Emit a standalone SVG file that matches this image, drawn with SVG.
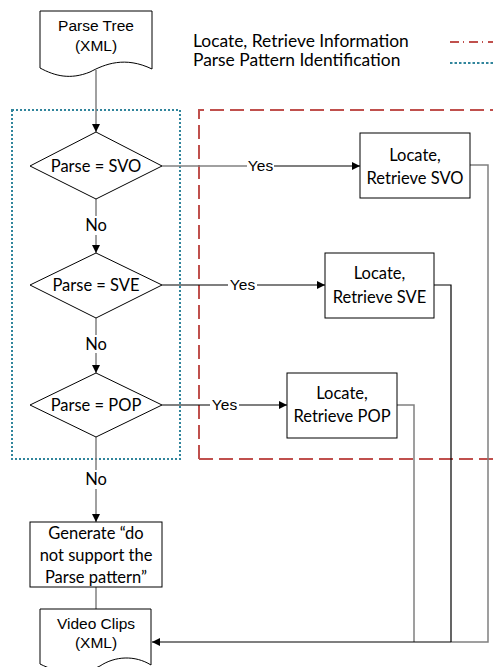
<svg xmlns="http://www.w3.org/2000/svg" width="493" height="667" viewBox="0 0 493 667">
<defs>
<marker id="arr" viewBox="0 0 10 10" refX="10" refY="5" markerWidth="8" markerHeight="8" markerUnits="userSpaceOnUse" orient="auto">
<path d="M0,0 L10,5 L0,10 z" fill="#000"/>
</marker>
<style>
.shape{fill:#fff;stroke:#000;stroke-width:1}
.ar{font-family:"Liberation Sans",Arial,sans-serif;font-size:15.5px;fill:#000;text-anchor:middle}
.ca{font-family:Lato,"Open Sans",sans-serif;font-size:16.5px;fill:#000;text-anchor:middle}
.lg{font-family:Lato,"Open Sans",sans-serif;font-size:17.4px;fill:#000}
.g{fill:none;stroke:#808080;stroke-width:1.5}
.k{fill:none;stroke:#000;stroke-width:1.2}
</style>
</defs>
<rect width="493" height="667" fill="#fff"/>
<g id="legend">
<text class="lg" x="193" y="47">Locate, Retrieve Information</text>
<text class="lg" x="193" y="66">Parse Pattern Identification</text>
<line x1="450" y1="42" x2="493" y2="42" stroke="#C0504D" stroke-width="2" stroke-dasharray="9 4 1 5"/>
<line x1="450" y1="63" x2="493" y2="63" stroke="#31859C" stroke-width="2" stroke-dasharray="2.5 2"/>
</g>
<g id="group-parse">
<rect x="12" y="110" width="168" height="349" fill="none" stroke="#31859C" stroke-width="2" stroke-dasharray="2 2"/>
</g>
<g id="group-locate">
<path d="M199,459 L199,110 L500,110 M199,459 L500,459" fill="none" stroke="#C0504D" stroke-width="2" stroke-dasharray="14 6"/>
</g>
<g id="connectors">
<line class="g" x1="96" y1="70" x2="96" y2="132" marker-end="url(#arr)"/>
<line class="g" x1="96" y1="199" x2="96" y2="216"/>
<line class="g" x1="96" y1="235" x2="96" y2="253" marker-end="url(#arr)"/>
<line class="g" x1="96" y1="318" x2="96" y2="335"/>
<line class="g" x1="96" y1="353" x2="96" y2="373" marker-end="url(#arr)"/>
<line class="g" x1="96" y1="437" x2="96" y2="470"/>
<line class="g" x1="96" y1="489" x2="96" y2="522" marker-end="url(#arr)"/>
<line class="g" x1="96" y1="587" x2="96" y2="609"/>
<line class="g" x1="162" y1="166" x2="247" y2="166"/>
<line class="k" x1="274" y1="166" x2="360" y2="166" marker-end="url(#arr)"/>
<line class="k" x1="162" y1="285" x2="228" y2="285"/>
<line class="k" x1="257" y1="285" x2="325" y2="285" marker-end="url(#arr)"/>
<line class="k" x1="162" y1="405" x2="210" y2="405"/>
<line class="k" x1="239" y1="405" x2="287" y2="405" marker-end="url(#arr)"/>
<polyline class="g" points="470,165 488,165 488,642 451,642"/>
<polyline class="k" points="434,285 451,285 451,642"/>
<polyline class="g" points="397,405 414,405 414,642"/>
<line class="k" x1="451" y1="642" x2="152" y2="642" stroke-width="1.5" marker-end="url(#arr)"/>
<text class="ar" x="260.5" y="171">Yes</text>
<text class="ar" x="242.5" y="290">Yes</text>
<text class="ar" x="224.5" y="410">Yes</text>
<text class="ca" x="96" y="231">No</text>
<text class="ca" x="96" y="350">No</text>
<text class="ca" x="96" y="485">No</text>
</g>
<g id="parse-tree">
<path class="shape" d="M40,11 L152,11 L152,69 C125,56 105,64 90,72 C70,80 55,76 40,68 Z"/>
<text class="ar" x="96" y="31">Parse Tree</text>
<text class="ar" x="96" y="51">(XML)</text>
</g>
<g id="d-svo">
<polygon class="shape" points="96,132 162,166 96,199 30,166"/>
<text class="ca" x="96" y="172">Parse = SVO</text>
</g>
<g id="d-sve">
<polygon class="shape" points="96,253 162,285 96,318 30,285"/>
<text class="ca" x="96" y="291">Parse = SVE</text>
</g>
<g id="d-pop">
<polygon class="shape" points="96,373 162,405 96,437 30,405"/>
<text class="ca" x="96" y="411">Parse = POP</text>
</g>
<g id="b-svo">
<rect class="shape" x="360" y="133" width="110" height="65"/>
<text class="ca" x="415" y="161">Locate,</text>
<text class="ca" x="415" y="184">Retrieve SVO</text>
</g>
<g id="b-sve">
<rect class="shape" x="325" y="253" width="109" height="65"/>
<text class="ca" x="379.5" y="279">Locate,</text>
<text class="ca" x="379.5" y="303">Retrieve SVE</text>
</g>
<g id="b-pop">
<rect class="shape" x="287" y="373" width="110" height="65"/>
<text class="ca" x="342" y="399">Locate,</text>
<text class="ca" x="342" y="422">Retrieve POP</text>
</g>
<g id="generate">
<rect class="shape" x="30" y="522" width="132" height="65"/>
<text class="ca" x="96" y="539">Generate “do</text>
<text class="ca" x="96" y="561">not support the</text>
<text class="ca" x="96" y="583">Parse pattern”</text>
</g>
<g id="video-clips">
<path class="shape" d="M40,609 L151,609 L151,665 C135,655 115,656 100,666 C80,676 60,674 40,664 Z"/>
<text class="ar" x="96" y="629">Video Clips</text>
<text class="ar" x="96" y="648">(XML)</text>
</g>
</svg>
